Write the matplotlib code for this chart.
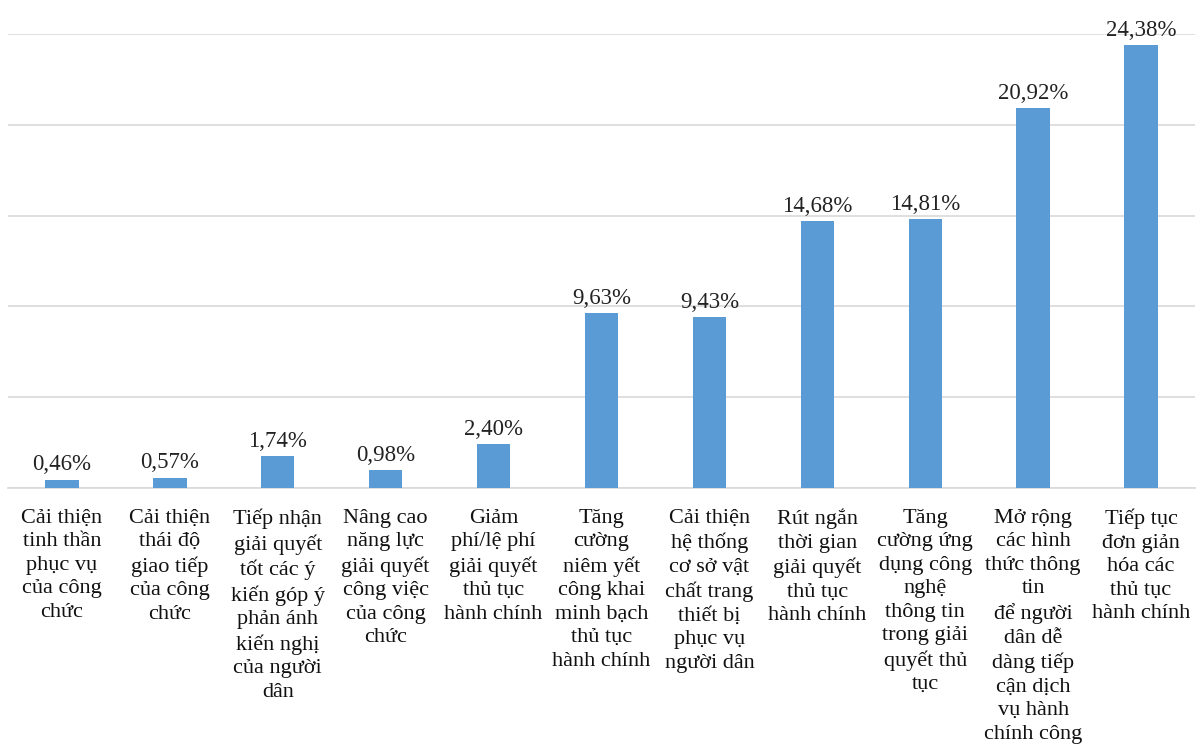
import matplotlib
matplotlib.use("Agg")
import matplotlib.pyplot as plt

categories = [
    "Cải thiện\ntinh thần\nphục vụ\ncủa công\nchức",
    "Cải thiện\nthái độ\ngiao tiếp\ncủa công\nchức",
    "Tiếp nhận\ngiải quyết\ntốt các ý\nkiến góp ý\nphản ánh\nkiến nghị\ncủa người\ndân",
    "Nâng cao\nnăng lực\ngiải quyết\ncông việc\ncủa công\nchức",
    "Giảm\nphí/lệ phí\ngiải quyết\nthủ tục\nhành chính",
    "Tăng\ncường\nniêm yết\ncông khai\nminh bạch\nthủ tục\nhành chính",
    "Cải thiện\nhệ thống\ncơ sở vật\nchất trang\nthiết bị\nphục vụ\nngười dân",
    "Rút ngắn\nthời gian\ngiải quyết\nthủ tục\nhành chính",
    "Tăng\ncường ứng\ndụng công\nnghệ\nthông tin\ntrong giải\nquyết thủ\ntục",
    "Mở rộng\ncác hình\nthức thông\ntin\nđể người\ndân dễ\ndàng tiếp\ncận dịch\nvụ hành\nchính công",
    "Tiếp tục\nđơn giản\nhóa các\nthủ tục\nhành chính",
]
values = [0.46, 0.57, 1.74, 0.98, 2.40, 9.63, 9.43, 14.68, 14.81, 20.92, 24.38]
value_labels = ["0,46%", "0,57%", "1,74%", "0,98%", "2,40%", "9,63%", "9,43%",
                "14,68%", "14,81%", "20,92%", "24,38%"]

plt.rcParams['font.family'] = ['Liberation Serif', 'DejaVu Serif']

fig = plt.figure(figsize=(12, 7.53), dpi=100)
ax = fig.add_axes([8/1200, 1-488/753, 1187/1200, (488-34)/753])

x = list(range(len(values)))
bars = ax.bar(x, values, width=0.31, color="#5B9BD5", zorder=3)
for b, lab in zip(bars, value_labels):
    ax.annotate(lab, (b.get_x()+b.get_width()/2, b.get_height()),
                xytext=(0, 3), textcoords="offset points",
                ha="center", va="bottom", fontsize=16.5, color="#222222")

ax.set_xlim(-0.5, len(values)-0.5)
ax.set_ylim(0, 25)
ax.set_yticks([0, 5, 10, 15, 20, 25])
ax.yaxis.grid(True, color="#d9d9d9", linewidth=1.2, zorder=0)
ax.tick_params(axis="y", left=False, labelleft=False)
ax.tick_params(axis="x", length=0, pad=15)
ax.set_xticks(x)
ax.set_xticklabels(categories, fontsize=16, linespacing=1.32, va="top", color="#111111")
for s in ["top", "right", "left"]:
    ax.spines[s].set_visible(False)
ax.spines["bottom"].set_color("#d9d9d9")
ax.spines["bottom"].set_linewidth(1.2)

fig.savefig("out.png", dpi=100)
